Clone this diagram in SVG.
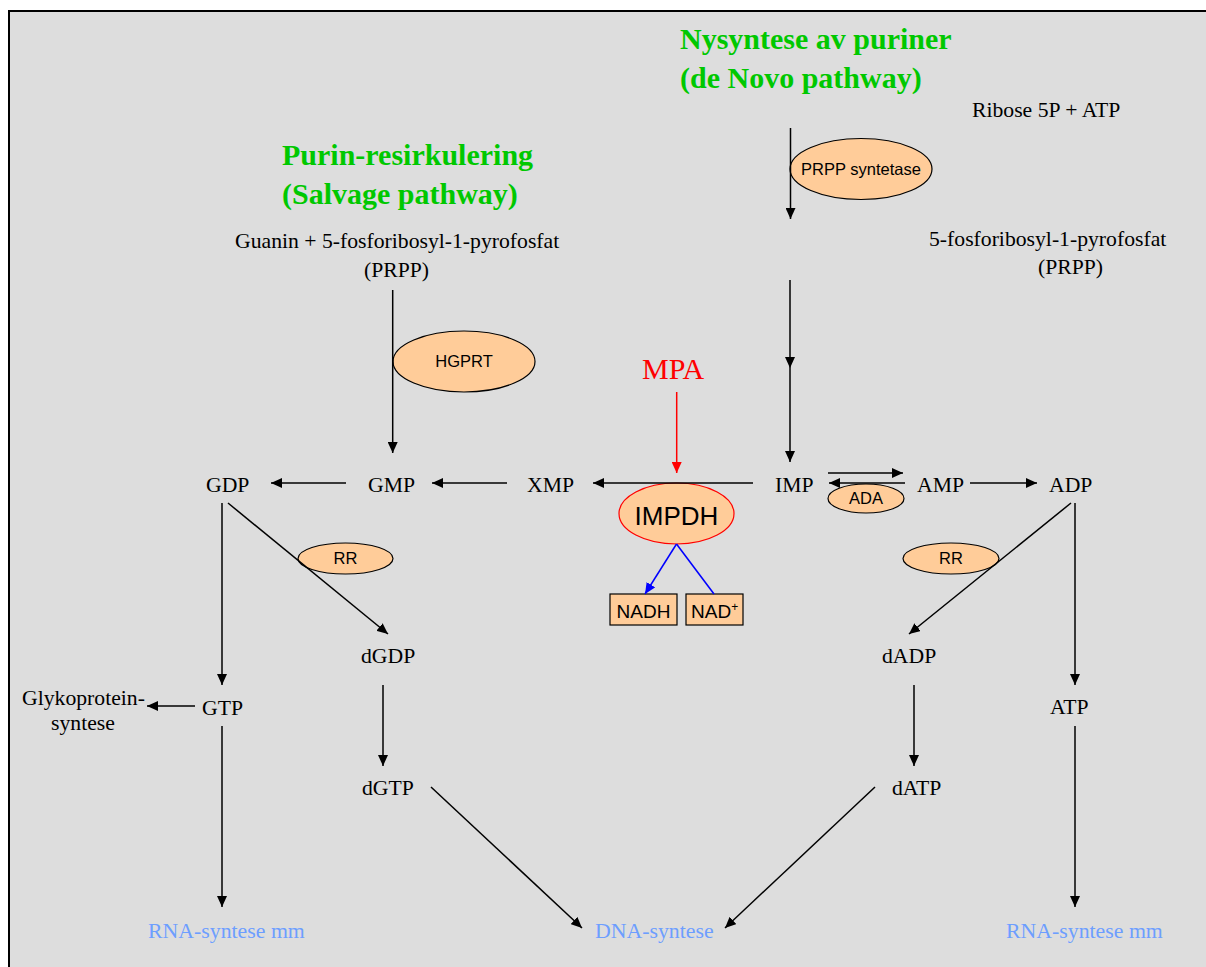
<svg xmlns="http://www.w3.org/2000/svg" width="1206" height="967" viewBox="0 0 1206 967">
<style>
.t{font-family:"Liberation Serif","Times New Roman",serif;font-size:21.7px;fill:#000}
.title{font-family:"Liberation Serif","Times New Roman",serif;font-size:30px;font-weight:bold;fill:#00C800}
.blue{font-family:"Liberation Serif","Times New Roman",serif;font-size:21.8px;fill:#6D9EFF}
.e{fill:#FFCC99;stroke:#000;stroke-width:1.2}
.et{font-family:"Liberation Sans",Arial,sans-serif;font-size:16.5px;fill:#000;text-anchor:middle}
.c{stroke:#000;stroke-width:1.5;fill:none}
</style>
<defs>
<marker id="ah" markerUnits="userSpaceOnUse" markerWidth="12" markerHeight="10" refX="11" refY="5" orient="auto"><path d="M0,0 L11,5 L0,10 z" fill="#000"/></marker>
<marker id="ahr" markerUnits="userSpaceOnUse" markerWidth="12" markerHeight="10" refX="11" refY="5" orient="auto"><path d="M0,0 L11,5 L0,10 z" fill="#FF0000"/></marker>
<marker id="ahb" markerUnits="userSpaceOnUse" markerWidth="12" markerHeight="10" refX="11" refY="5" orient="auto"><path d="M0,0 L11,5 L0,10 z" fill="#0000FF"/></marker>
</defs>
<rect x="0" y="0" width="1206" height="967" fill="#fff"/>
<rect x="9" y="11" width="1300" height="1000" fill="#DDDDDD" stroke="#000" stroke-width="2"/>

<g id="titles">
<text class="title" x="680" y="49">Nysyntese av puriner</text>
<text class="title" x="680" y="88">(de Novo pathway)</text>
<text class="title" x="282" y="165">Purin-resirkulering</text>
<text class="title" x="282" y="204">(Salvage pathway)</text>
</g>

<g id="ribose"><text class="t" x="972" y="117">Ribose 5P + ATP</text></g>
<g id="prpp-denovo"><text class="t" x="929" y="246">5-fosforibosyl-1-pyrofosfat</text><text class="t" x="1038" y="274">(PRPP)</text></g>
<g id="guanin"><text class="t" x="235" y="248">Guanin + 5-fosforibosyl-1-pyrofosfat</text><text class="t" x="364" y="277">(PRPP)</text></g>

<g id="prpp-syntetase"><ellipse class="e" cx="861" cy="169" rx="71" ry="30.5"/><text class="et" x="861" y="175">PRPP syntetase</text></g>
<g id="hgprt"><ellipse class="e" cx="464" cy="361.5" rx="71" ry="30.5"/><text class="et" x="464" y="367">HGPRT</text></g>
<g id="mpa"><text x="642" y="379" style="font-family:'Liberation Serif','Times New Roman',serif;font-size:30px;fill:#FF0000">MPA</text></g>
<g id="impdh"><ellipse cx="676.5" cy="513.5" rx="57.5" ry="30.5" fill="#FFCC99" stroke="#FF0000" stroke-width="1.2"/><text x="676.5" y="525" style="font-family:'Liberation Sans',Arial,sans-serif;font-size:26px;text-anchor:middle">IMPDH</text></g>
<g id="nadh"><rect x="610" y="594" width="67" height="31" fill="#FFCC99" stroke="#000" stroke-width="1.2"/><text x="643.5" y="618" style="font-family:'Liberation Sans',Arial,sans-serif;font-size:19px;text-anchor:middle">NADH</text></g>
<g id="nad"><rect x="686" y="594" width="57" height="31" fill="#FFCC99" stroke="#000" stroke-width="1.2"/><text x="691" y="618" style="font-family:'Liberation Sans',Arial,sans-serif;font-size:19px">NAD<tspan dy="-7" style="font-size:12px">+</tspan></text></g>
<g id="ada"><ellipse class="e" cx="866" cy="498.5" rx="38" ry="14.5"/><text class="et" x="866" y="504">ADA</text></g>
<g id="rr-left"><ellipse class="e" cx="345.5" cy="558.5" rx="47.5" ry="15.5"/><text class="et" x="345.5" y="564">RR</text></g>
<g id="rr-right"><ellipse class="e" cx="951" cy="558.5" rx="48" ry="15.5"/><text class="et" x="951" y="564">RR</text></g>

<g id="imp"><text class="t" x="775" y="492">IMP</text></g>
<g id="xmp"><text class="t" x="527" y="492">XMP</text></g>
<g id="gmp"><text class="t" x="368" y="492">GMP</text></g>
<g id="gdp"><text class="t" x="206" y="492">GDP</text></g>
<g id="amp"><text class="t" x="917" y="492">AMP</text></g>
<g id="adp"><text class="t" x="1049" y="492">ADP</text></g>
<g id="dgdp"><text class="t" x="361" y="663">dGDP</text></g>
<g id="dadp"><text class="t" x="882" y="663">dADP</text></g>
<g id="gtp"><text class="t" x="202" y="715">GTP</text></g>
<g id="atp"><text class="t" x="1050" y="714">ATP</text></g>
<g id="glyko"><text class="t" x="22" y="705">Glykoprotein-</text><text class="t" x="51" y="730">syntese</text></g>
<g id="dgtp"><text class="t" x="362" y="795">dGTP</text></g>
<g id="datp"><text class="t" x="892" y="795">dATP</text></g>
<g id="rna-left"><text class="blue" x="148" y="938">RNA-syntese mm</text></g>
<g id="dna"><text class="blue" x="595" y="938">DNA-syntese</text></g>
<g id="rna-right"><text class="blue" x="1006" y="938">RNA-syntese mm</text></g>

<g id="connectors">
<line class="c" x1="790.5" y1="128" x2="790.5" y2="219" marker-end="url(#ah)"/>
<line class="c" x1="790" y1="280" x2="790" y2="368" marker-end="url(#ah)"/>
<line class="c" x1="790" y1="368" x2="790" y2="462" marker-end="url(#ah)"/>
<line class="c" x1="392.7" y1="290" x2="392.7" y2="453" marker-end="url(#ah)"/>
<line x1="676.7" y1="392" x2="676.7" y2="473" stroke="#FF0000" stroke-width="1.5" marker-end="url(#ahr)"/>
<line class="c" x1="753" y1="483" x2="593" y2="483" marker-end="url(#ah)"/>
<line class="c" x1="507" y1="483" x2="432" y2="483" marker-end="url(#ah)"/>
<line class="c" x1="346" y1="483" x2="271" y2="483" marker-end="url(#ah)"/>
<line class="c" x1="828" y1="473" x2="903" y2="473" marker-end="url(#ah)"/>
<line class="c" x1="905" y1="483" x2="829" y2="483" marker-end="url(#ah)"/>
<line class="c" x1="970" y1="483" x2="1037" y2="483" marker-end="url(#ah)"/>
<line x1="676.5" y1="544" x2="645" y2="594" stroke="#0000FF" stroke-width="1.5" marker-end="url(#ahb)"/>
<line x1="676.5" y1="544" x2="714" y2="594" stroke="#0000FF" stroke-width="1.5"/>
<line class="c" x1="228" y1="503" x2="388" y2="634" marker-end="url(#ah)"/>
<line class="c" x1="1071" y1="503" x2="909" y2="634" marker-end="url(#ah)"/>
<line class="c" x1="222" y1="503" x2="222" y2="685" marker-end="url(#ah)"/>
<line class="c" x1="1075" y1="503" x2="1075" y2="685" marker-end="url(#ah)"/>
<line class="c" x1="195" y1="706" x2="147" y2="706" marker-end="url(#ah)"/>
<line class="c" x1="383" y1="685" x2="383" y2="766" marker-end="url(#ah)"/>
<line class="c" x1="914" y1="685" x2="914" y2="766" marker-end="url(#ah)"/>
<line class="c" x1="222" y1="726" x2="222" y2="907" marker-end="url(#ah)"/>
<line class="c" x1="1075" y1="726" x2="1075" y2="907" marker-end="url(#ah)"/>
<line class="c" x1="431" y1="787" x2="582" y2="928" marker-end="url(#ah)"/>
<line class="c" x1="875" y1="787" x2="725" y2="928" marker-end="url(#ah)"/>
</g>
</svg>
